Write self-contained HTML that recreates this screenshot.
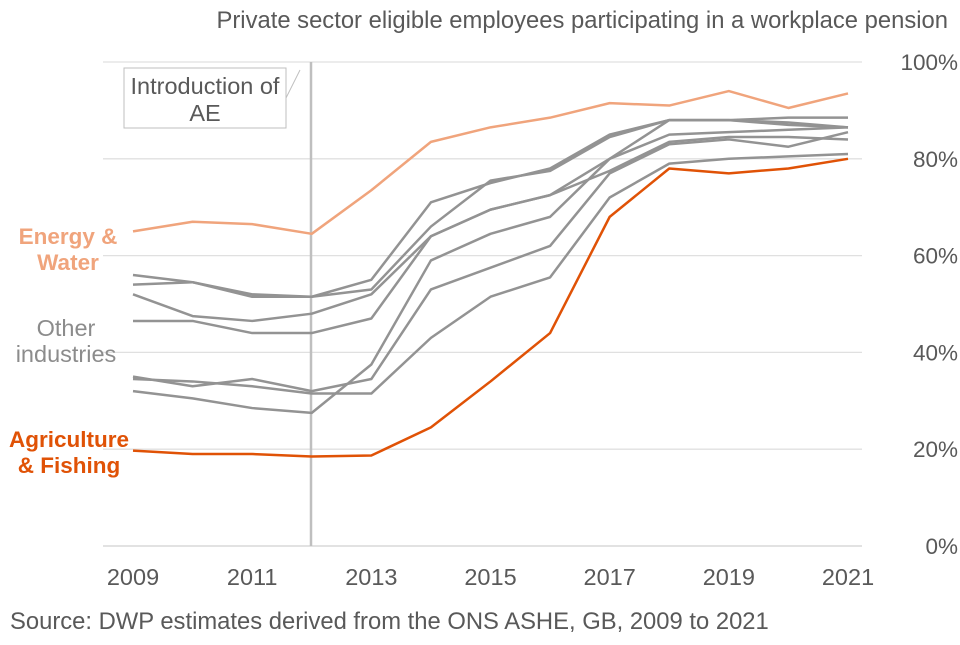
<!DOCTYPE html>
<html><head><meta charset="utf-8"><style>
body{margin:0;background:#fff;font-family:"Liberation Sans",sans-serif}
svg text{font-family:"Liberation Sans",sans-serif}
</style></head><body>
<svg width="960" height="640" viewBox="0 0 960 640">
<text x="948" y="28" text-anchor="end" font-size="23.8" fill="#595959">Private sector eligible employees participating in a workplace pension</text>
<g id="grid"></g><g id="yt"></g><g id="xt"></g>
<line x1="311" y1="62" x2="311" y2="546" stroke="#bfbfbf" stroke-width="2.5"/>
<rect x="124" y="68" width="162" height="60" fill="#fff" stroke="#bfbfbf"/>
<line x1="286" y1="98" x2="300" y2="70" stroke="#bfbfbf"/>
<text x="205" y="94" text-anchor="middle" font-size="23.5" fill="#595959">Introduction of</text>
<text x="205" y="121" text-anchor="middle" font-size="23.5" fill="#595959">AE</text>
<g id="lines"></g>
<text x="68" y="244" text-anchor="middle" font-size="22.5" font-weight="bold" fill="#f0a47c">Energy &amp;</text>
<text x="68" y="270" text-anchor="middle" font-size="22.5" font-weight="bold" fill="#f0a47c">Water</text>
<text x="66" y="336" text-anchor="middle" font-size="23.5" fill="#8c8c8c">Other</text>
<text x="66" y="362" text-anchor="middle" font-size="23.5" fill="#8c8c8c">industries</text>
<text x="69" y="447" text-anchor="middle" font-size="22.5" font-weight="bold" fill="#e05206">Agriculture</text>
<text x="69" y="473" text-anchor="middle" font-size="22.5" font-weight="bold" fill="#e05206">&amp; Fishing</text>
<text x="10" y="629" font-size="23.8" fill="#595959">Source: DWP estimates derived from the ONS ASHE, GB, 2009 to 2021</text>
</svg>
<script>
const years=[2009,2010,2011,2012,2013,2014,2015,2016,2017,2018,2019,2020,2021];
const yTicks=[0,20,40,60,80,100];
const xTickLabels=[2009,2011,2013,2015,2017,2019,2021];
const other1=[56,54.5,52,51.5,55,71,75,78,85,88,88,87.5,86.5];
const other2=[54,54.5,51.5,51.5,53,66,75.5,77.5,84.5,88,88,88.5,88.5];
const other3=[52,47.5,46.5,48,52,64,69.5,72.5,80,85,85.5,86,86.5];
const other4=[46.5,46.5,44,44,47,64,69.5,72.5,77.5,83.5,84.5,84.5,84];
const other5=[35,33,34.5,32,34.5,53,57.5,62,77,83,84,82.5,85.5];
const other6=[34.5,34,33,31.5,31.5,43,51.5,55.5,72,79,80,80.5,81];
const other7=[32,30.5,28.5,27.5,37.5,59,64.5,68,80,88,88,87,86.5];
const energy=[65,67,66.5,64.5,73.5,83.5,86.5,88.5,91.5,91,94,90.5,93.5];
const agri=[19.7,19,19,18.5,18.7,24.5,34,44,68,78,77,78,80];
const NS='http://www.w3.org/2000/svg';
const x=yr=>133+(yr-2009)*(848-133)/12;
const y=v=>546-v*4.84;
function mk(t,a,p){const e=document.createElementNS(NS,t);for(const k in a)e.setAttribute(k,a[k]);document.getElementById(p).appendChild(e);return e;}
yTicks.forEach(v=>{
 const l=mk('line',{x1:103,x2:862,y1:y(v),y2:y(v),stroke:v===0?'#d0d0d0':'#e0e0e0','stroke-width':1.3},'grid');
 
 
 const t=mk('text',{x:958,y:y(v)+8,'text-anchor':'end','font-size':22.5,fill:'#595959'},'yt');
 t.textContent=v+'%';
 
 
});
xTickLabels.forEach(yr=>{
 const t=mk('text',{x:x(yr),y:585,'text-anchor':'middle','font-size':23.5,fill:'#595959'},'xt');
 t.textContent=yr;
 
 
});
function series(arr,color,w,name){
 const p=mk('polyline',{points:arr.map((v,i)=>x(years[i])+','+y(v)).join(' '),fill:'none',stroke:color,'stroke-width':w,'stroke-linejoin':'round'},'lines');
 
 
}
[other1,other2,other3,other4,other5,other6,other7].forEach((s,i)=>series(s,'#939393',2.5,'line-other-'+(i+1)));
series(energy,'#f0a47c',2.5,'line-energy-water');
series(agri,'#e05206',2.5,'line-agriculture-fishing');
</script>
</body></html>
